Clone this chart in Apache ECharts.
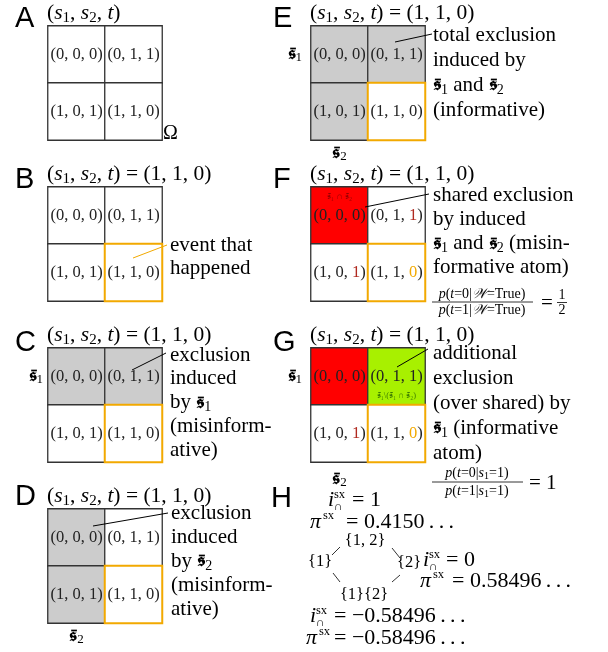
<!DOCTYPE html>
<html><head><meta charset="utf-8">
<script src="https://cdn.jsdelivr.net/npm/echarts@6/dist/echarts.min.js"></script>
<style>html,body{margin:0;padding:0;background:#fff}#c{width:608px;height:652px}</style>
</head><body><div id="c"></div>
<script>
// ---- data: the four atoms (s1, s2, t) ----
const s1Values = [0, 0, 1, 1];
const s2Values = [0, 1, 0, 1];
const tValues  = [0, 1, 1, 0];
const panelNames = ['A', 'B', 'C', 'D', 'E', 'F', 'G'];
// cell state per atom: w = plain, g = excluded, r = shared exclusion, y = additional exclusion
const fillA = ['w', 'w', 'w', 'w'];
const fillB = ['w', 'w', 'w', 'w'];
const fillC = ['g', 'g', 'w', 'w'];
const fillD = ['g', 'w', 'g', 'w'];
const fillE = ['g', 'g', 'g', 'w'];
const fillF = ['r', 'w', 'w', 'w'];
const fillG = ['r', 'y', 'w', 'w'];
const eventAtom = [1, 1, 0];
const eventPanels = ['B', 'C', 'D', 'E', 'F', 'G'];
const rowLabelPanels = ['C', 'E', 'G'];
const colLabelPanels = ['D', 'E', 'G'];
const colouredTPanels = ['F', 'G'];
const SB = '\u{1D598}\u0304';
const noteF = [SB + '\u2081 \u2229 ' + SB + '\u2082', '', '', ''];
const noteG = ['', SB + '\u2081\\(' + SB + '\u2081 \u2229 ' + SB + '\u2082)', '', ''];
// panel H lattice
const latticeNodes = [['1, 2'], ['1'], ['2'], ['1', '2']];
const DOTS = '\u2009.\u2009.\u2009.';
const iSx  = ['1', '0', '\u22120.58496' + DOTS];
const piSx = ['0.4150' + DOTS, '0.58496' + DOTS, '\u22120.58496' + DOTS];

// ---- styles / layout ----
const SERIF = '"Liberation Serif", "DejaVu Serif", serif';
const SANS = '"Liberation Sans", Arial, sans-serif';
const FS = 21;
const POS = {A:[48,26], B:[48,187], C:[48,348], D:[48,509], E:[311,26], F:[311,187], G:[311,348]};
const SIZE = 114;
const FILL_COLOR = {w:'#ffffff', g:'#cccccc', r:'#ff0000', y:'#a8f000'};
const ORANGE = '#f2a900', DARKRED = '#b02a20', LINE = '#333333';
const xLabelMargin = {D:3, E:3, G:7};
const yLabelMargin = {C:5, E:9, G:9};

function mathRich(fs, lh, color) {
  color = color || '#000';
  return {
    n:   {fontFamily: SERIF, fontSize: fs, lineHeight: lh, fill: color},
    m:   {fontFamily: SERIF, fontStyle: 'italic', fontSize: fs, lineHeight: lh, fill: color},
    sub: {fontFamily: SERIF, fontSize: Math.round(fs * 0.68), lineHeight: lh - 10, verticalAlign: 'bottom', fill: color},
    fk:  {fontFamily: SERIF, fontSize: Math.round(fs * 0.9), fontWeight: 'bold', lineHeight: lh, fill: color}
  };
}
const graphics = [];
// every text is drawn through rich tokens so its font family is honoured
function T(x, y, text, o) {
  o = o || {};
  const st = {fill: '#000', align: o.align || 'left', verticalAlign: o.verticalAlign || 'middle',
    fontFamily: o.fontFamily || SERIF, fontSize: o.fontSize || FS, fontStyle: o.fontStyle || 'normal'};
  if (o.rich) { st.rich = o.rich; st.text = text; }
  else {
    st.rich = {t: {fontFamily: o.fontFamily || SERIF, fontSize: o.fontSize || FS, fontStyle: o.fontStyle || 'normal', fill: '#000'}};
    st.text = '{t|' + text + '}';
  }
  if (o.lineHeight) st.lineHeight = o.lineHeight;
  graphics.push({type: 'text', x: x, y: y, silent: true, z: 10, style: st});
}
function Ln(x1, y1, x2, y2, color, w) {
  graphics.push({type: 'line', silent: true, z: 11, shape: {x1, y1, x2, y2}, style: {stroke: color || '#000', lineWidth: w || 1}});
}

// panel letters
const letterPos = {A:[15,19], B:[15,180], C:[15,343], D:[15,497], E:[273,19], F:[273,180], G:[273,343], H:[271,499]};
Object.keys(letterPos).forEach(k => T(letterPos[k][0], letterPos[k][1], k, {fontFamily: SANS, fontSize: 29}));

// titles
const R = mathRich(21.5, 24.2);
const titleBase = '{n|(}{m|s}{sub|1}{n|, }{m|s}{sub|2}{n|, }{m|t}{n|)}';
const titleFull = titleBase + '{n| = (' + eventAtom.join(', ') + ')}';
panelNames.forEach(p => {
  T(POS[p][0] - 1, POS[p][1] - 13, p === 'A' ? titleBase : titleFull, {rich: R});
});
T(163, 134, '\u03A9', {fontSize: 20});

// annotations
function block(x, yFirst, lines, lh) {
  T(x, yFirst - lh / 2, lines.join('\n'), {rich: mathRich(FS, lh), verticalAlign: 'top', lineHeight: lh});
}
const sb1 = '{fk|' + SB + '}{sub|1}', sb2 = '{fk|' + SB + '}{sub|2}';
block(170, 245, ['{n|event that}', '{n|happened}'], 23);
Ln(133, 258, 167, 245, ORANGE, 1);
block(170, 355, ['{n|exclusion}', '{n|induced}', '{n|by }' + sb1, '{n|(misinform-}', '{n|ative)}'], 23.8);
Ln(132, 370, 166, 353);
block(171, 513, ['{n|exclusion}', '{n|induced}', '{n|by }' + sb2, '{n|(misinform-}', '{n|ative)}'], 24.2);
Ln(93, 526, 168, 513);
block(433, 35, ['{n|total exclusion}', '{n|induced by}', sb1 + '{n| and }' + sb2, '{n|(informative)}'], 25);
Ln(395, 42, 432, 34);
block(433, 195, ['{n|shared exclusion}', '{n|by induced}', sb1 + '{n| and }' + sb2 + '{n| (misin-}', '{n|formative atom)}'], 24.3);
Ln(365, 207, 429, 194);
block(433, 353, ['{n|additional}', '{n|exclusion}', '{n|(over shared) by}', sb1 + '{n| (informative}', '{n|atom)}'], 25);
Ln(397, 367, 428, 349);

// fractions
const RS = mathRich(14, 16);
T(482, 294, '{m|p}{n|(}{m|t}{n|=0|}{m|\u{1D4B2}}{n|=True)}', {rich: RS, align: 'center'});
T(482, 310, '{m|p}{n|(}{m|t}{n|=1|}{m|\u{1D4B2}}{n|=True)}', {rich: RS, align: 'center'});
Ln(432, 302, 533, 302, '#000', 0.8);
T(541, 303, '=', {fontSize: 21});
T(562, 295, '1', {fontSize: 14, align: 'center'});
T(562, 310, '2', {fontSize: 14, align: 'center'});
Ln(557, 302.5, 567, 302.5, '#000', 0.8);
T(477, 473, '{m|p}{n|(}{m|t}{n|=0|}{m|s}{sub|1}{n|=1)}', {rich: RS, align: 'center'});
T(477, 491, '{m|p}{n|(}{m|t}{n|=1|}{m|s}{sub|1}{n|=1)}', {rich: RS, align: 'center'});
Ln(432, 482, 523, 482, '#000', 0.8);
T(529, 483, '= 1', {fontSize: 21});

// panel H
const HF = 22;
function eqI(x, y, val, eqX) {
  T(x, y, 'i', {fontStyle: 'italic', fontSize: HF});
  T(x + 6, y - 5, 'sx', {fontSize: 12.5});
  T(x + 6, y + 6.5, '\u2229', {fontSize: 12});
  T(eqX, y, '= ' + val, {fontSize: HF});
}
function eqPi(x, y, val, eqX) {
  T(x, y, '\u03C0', {fontStyle: 'italic', fontSize: HF});
  T(x + 13, y - 6, 'sx', {fontSize: 12.5});
  T(eqX, y, '= ' + val, {fontSize: HF});
}
eqI(328, 500, iSx[0], 352);
eqPi(310, 522, piSx[0], 346);
eqI(423, 560, iSx[1], 446);
eqPi(420, 581, piSx[1], 452);
eqI(310, 616, iSx[2], 334);
eqPi(306, 638, piSx[2], 334);
const latticePos = [[365, 541], [320, 562], [409, 563], [364, 595]];
const LR = {t: {fontFamily: SERIF, fontSize: 16.5, fill: '#000'}};
latticeNodes.forEach((parts, i) => {
  const txt = parts.map(s => '{t|{' + s + '}').join('}') + '}';
  T(latticePos[i][0], latticePos[i][1], txt, {fontSize: 16.5, align: 'center', rich: LR});
});
Ln(340, 547, 332, 555, '#333', 1);
Ln(333, 573, 340, 582, '#333', 1);
Ln(392, 548, 400, 558, '#333', 1);
Ln(400, 575, 392, 582, '#333', 1);

// ---- grids with heatmap cells ----
const fills = {A: fillA, B: fillB, C: fillC, D: fillD, E: fillE, F: fillF, G: fillG};
const notes = {F: noteF, G: noteG};
const axisRich = {
  fk: {fontFamily: SERIF, fontSize: 18, fontWeight: 'bold', color: '#000', lineHeight: 20},
  sub: {fontFamily: SERIF, fontSize: 13, color: '#000', lineHeight: 11, verticalAlign: 'bottom'}
};
const cellRich = {
  n: {fontFamily: SERIF, fontSize: 16.5, color: '#222', lineHeight: 20},
  r: {fontFamily: SERIF, fontSize: 16.5, color: DARKRED, lineHeight: 20},
  o: {fontFamily: SERIF, fontSize: 16.5, color: ORANGE, lineHeight: 20},
  nr: {fontFamily: SERIF, fontSize: 9, color: '#9a0000', lineHeight: 18},
  ng: {fontFamily: SERIF, fontSize: 8.5, color: '#3f7f00', lineHeight: 18},
  sp: {fontSize: 9, lineHeight: 18}
};
const option = {animation: false, grid: [], xAxis: [], yAxis: [], series: [], graphic: graphics};
panelNames.forEach((p, k) => {
  const fill = fills[p];
  const hasEv = eventPanels.includes(p);
  option.grid.push({left: POS[p][0], top: POS[p][1], width: SIZE, height: SIZE});
  option.xAxis.push({type: 'category', gridIndex: k, data: ['0', '1'], position: 'bottom',
    axisLine: {show: false}, axisTick: {show: false}, splitLine: {show: false},
    axisLabel: {show: colLabelPanels.includes(p), margin: xLabelMargin[p] || 3, rich: axisRich,
      formatter: (v, i) => i === 0 ? '{fk|' + SB + '}{sub|2}' : ''}});
  option.yAxis.push({type: 'category', gridIndex: k, data: ['0', '1'], inverse: true,
    axisLine: {show: false}, axisTick: {show: false}, splitLine: {show: false},
    axisLabel: {show: rowLabelPanels.includes(p), margin: yLabelMargin[p] || 5, rich: axisRich,
      formatter: (v, i) => i === 0 ? '{fk|' + SB + '}{sub|1}' : ''}});
  const data = s1Values.map((s1, i) => {
    const isEv = hasEv && s1 === eventAtom[0] && s2Values[i] === eventAtom[1] && tValues[i] === eventAtom[2];
    return {value: [s2Values[i], s1, tValues[i]], itemStyle: {color: FILL_COLOR[fill[i]],
      borderColor: isEv ? ORANGE : LINE, borderWidth: isEv ? 2 : 1.3}, isEv: isEv};
  });
  option.series.push({type: 'heatmap', xAxisIndex: k, yAxisIndex: k, data: data,
    emphasis: {disabled: true},
    label: {show: true, rich: cellRich, formatter: (prm) => {
      const i = prm.dataIndex;
      let tTok = '{n|' + tValues[i] + '}';
      if (colouredTPanels.includes(p) && fill[i] === 'w') tTok = (data[i].isEv ? '{o|' : '{r|') + tValues[i] + '}';
      const main = '{n|(' + s1Values[i] + ', ' + s2Values[i] + ', }' + tTok + '{n|)}';
      const note = notes[p] ? notes[p][i] : '';
      if (!note) return main;
      if (p === 'F') return '{nr|' + note + '}\n' + main + '\n{sp| }';
      return '{sp| }\n' + main + '\n{ng|' + note + '}';
    }}});
});
const chart = echarts.init(document.getElementById('c'), null, {renderer: 'canvas'});
chart.setOption(option);
</script></body></html>
